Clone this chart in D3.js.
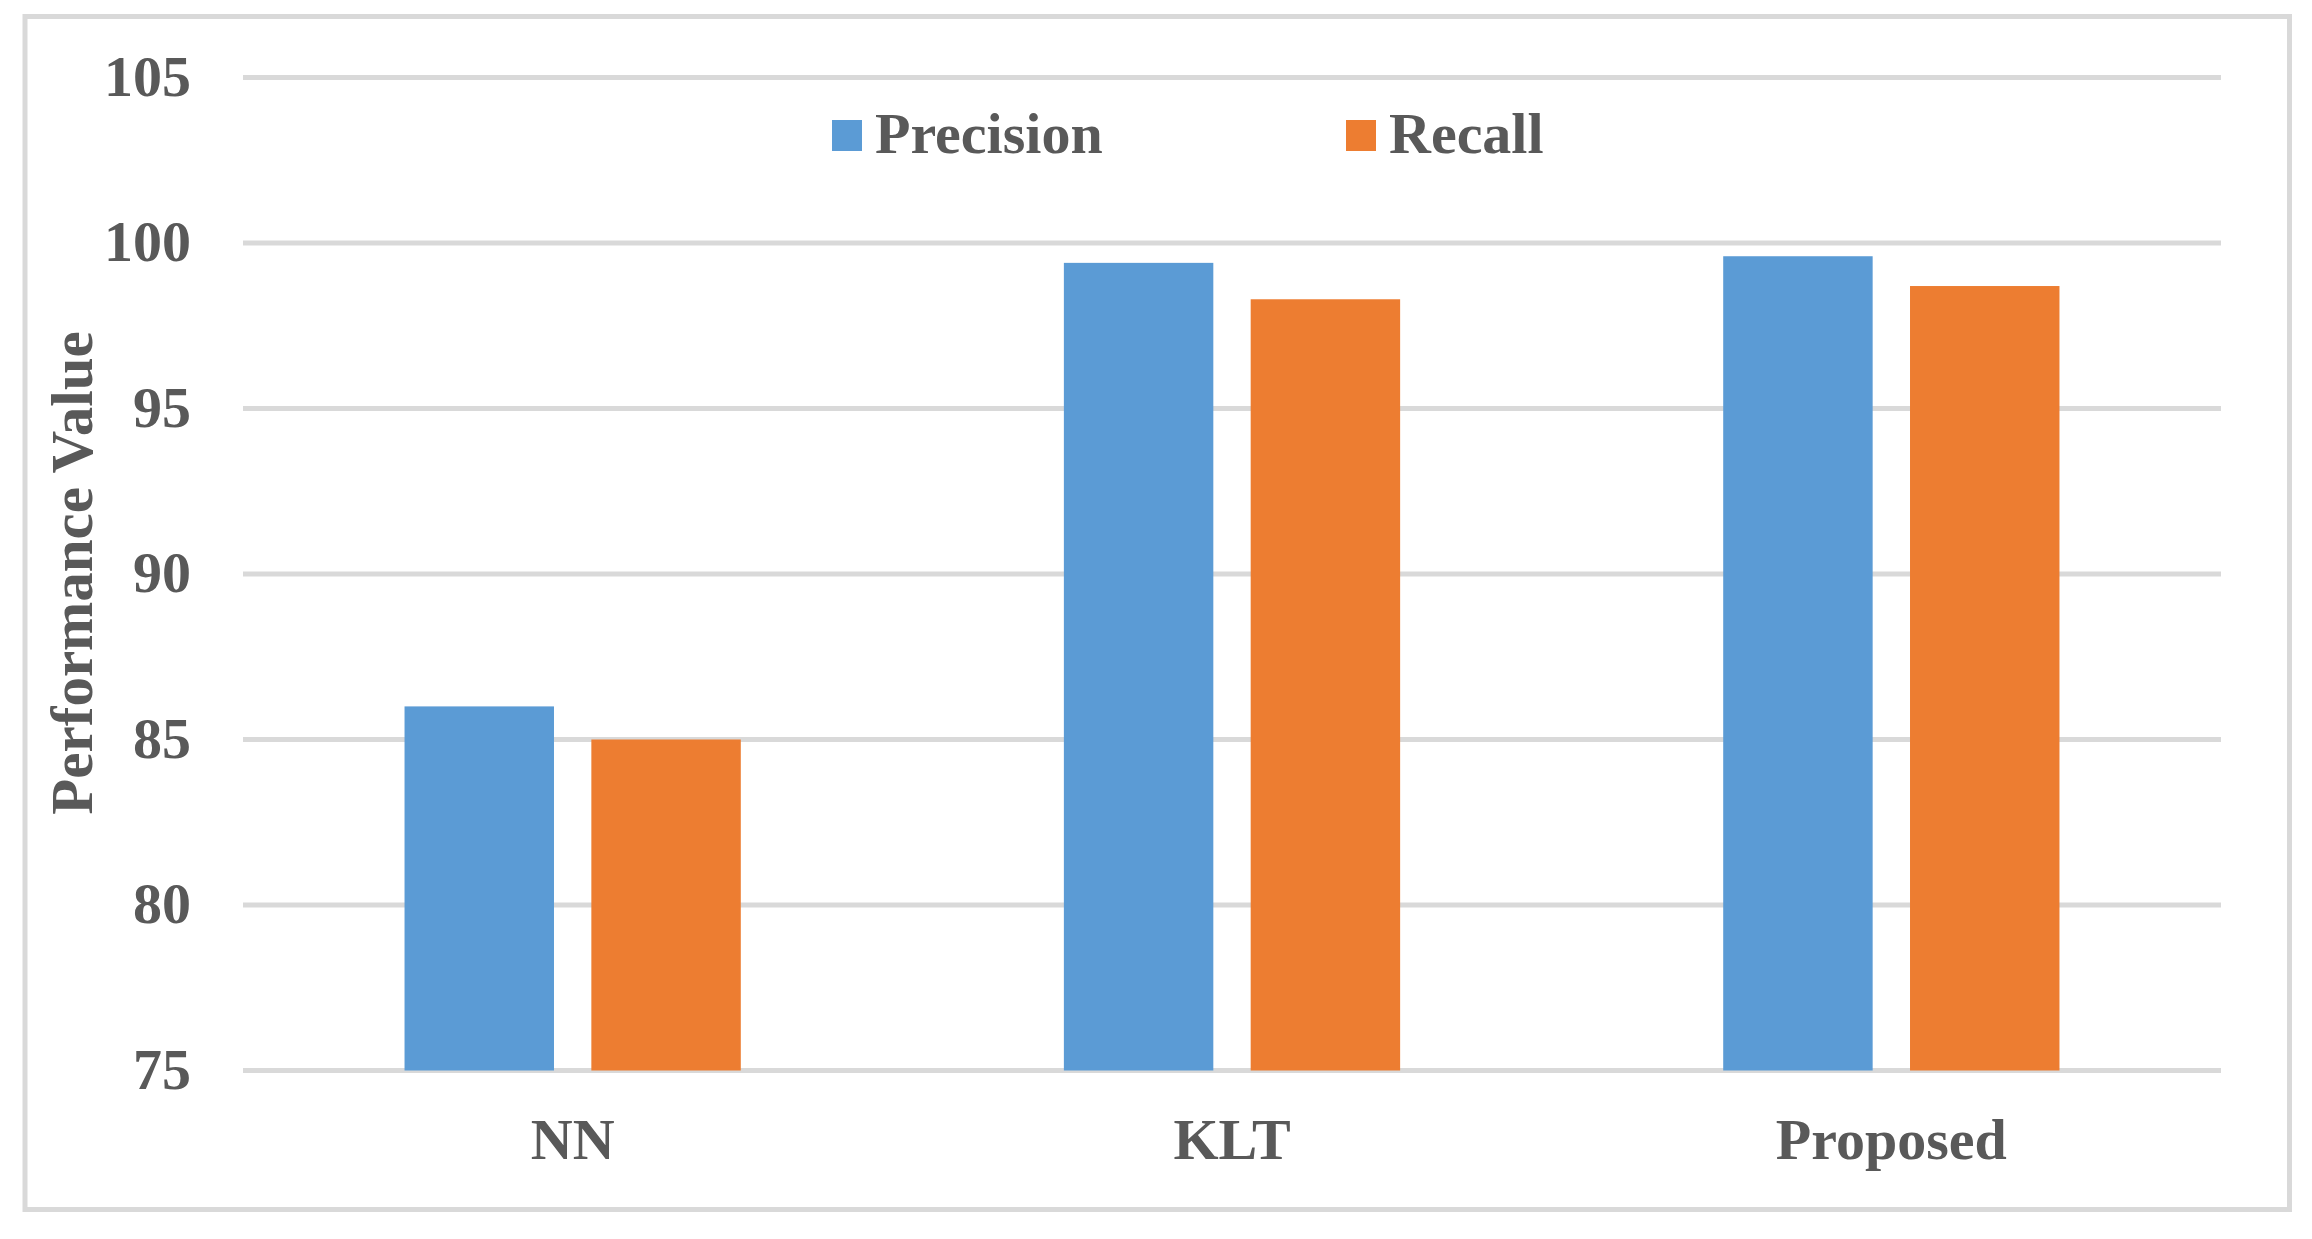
<!DOCTYPE html>
<html>
<head>
<meta charset="utf-8">
<script src="https://cdn.jsdelivr.net/npm/d3@7"></script>
<style>
  html, body { margin: 0; padding: 0; background: #fff; }
  svg text { font-family: "Liberation Serif", "Times New Roman", serif; font-weight: bold; fill: #595959; }
</style>
</head>
<body>
<svg id="chart" width="2312" height="1239"></svg>
<script>
// chart data
const categories = ["NN", "KLT", "Proposed"];
const seriesNames = ["Precision", "Recall"];
const precision = [86.0, 99.4, 99.6];
const recall = [85.0, 98.3, 98.7];
const yTicks = [75, 80, 85, 90, 95, 100, 105];

const colors = { Precision: "#5B9BD5", Recall: "#ED7D31" };
const seriesValues = { Precision: precision, Recall: recall };

const svg = d3.select("#chart");

// outer frame
svg.append("rect")
  .attr("x", 25).attr("y", 16.5)
  .attr("width", 2264.5).attr("height", 1193)
  .attr("fill", "#fff")
  .attr("stroke", "#D9D9D9")
  .attr("stroke-width", 5);

const left = 243, right = 2221;
const y = d3.scaleLinear().domain([75, 105]).range([1070.5, 77.5]);

const x0 = d3.scaleBand()
  .domain(categories)
  .range([left, right])
  .paddingInner(0.49)
  .paddingOuter(0.245);

const x1 = d3.scaleBand()
  .domain(seriesNames)
  .range([0, x0.bandwidth()])
  .paddingInner(0.2);

// gridlines
svg.append("g")
  .selectAll("line")
  .data(yTicks)
  .enter()
  .append("line")
  .attr("x1", left).attr("x2", right)
  .attr("y1", d => y(d)).attr("y2", d => y(d))
  .attr("stroke", "#D9D9D9")
  .attr("stroke-width", 5);

// bars
const groups = svg.append("g")
  .selectAll("g")
  .data(categories)
  .enter()
  .append("g")
  .attr("transform", d => `translate(${x0(d)},0)`);

groups.selectAll("rect")
  .data((c, i) => seriesNames.map(s => ({ s, v: seriesValues[s][i] })))
  .enter()
  .append("rect")
  .attr("x", d => x1(d.s))
  .attr("width", x1.bandwidth())
  .attr("y", d => y(d.v))
  .attr("height", d => y(75) - y(d.v))
  .attr("fill", d => colors[d.s]);

// y axis labels
const yAxis = d3.axisLeft(y).tickValues(yTicks).tickSize(0).tickPadding(0);
const gy = svg.append("g")
  .attr("transform", "translate(191,0)")
  .call(yAxis);
gy.select(".domain").remove();
gy.selectAll("text")
  .attr("font-size", 58)
  .attr("dy", null)
  .attr("y", 17.5)
  .attr("x", 0)
  .attr("font-family", null);

// x axis labels
const xAxis = d3.axisBottom(x0).tickSize(0).tickPadding(0);
const gx = svg.append("g")
  .attr("transform", `translate(0,${y(75)})`)
  .call(xAxis);
gx.select(".domain").remove();
gx.selectAll("text")
  .attr("font-size", 58)
  .attr("dy", null)
  .attr("y", 88.5)
  .attr("font-family", null);

// y title
svg.append("text")
  .attr("transform", "translate(92,573) rotate(-90)")
  .attr("text-anchor", "middle")
  .attr("font-size", 59)
  .text("Performance Value");

// legend
const legendX = [832, 1346];
const legend = svg.append("g")
  .selectAll("g")
  .data(seriesNames)
  .enter()
  .append("g")
  .attr("transform", (d, i) => `translate(${legendX[i]},120)`);

legend.append("rect")
  .attr("width", 30).attr("height", 31)
  .attr("fill", d => colors[d]);

legend.append("text")
  .attr("x", 43).attr("y", 33)
  .attr("font-size", 58)
  .text(d => d);
</script>
</body>
</html>
